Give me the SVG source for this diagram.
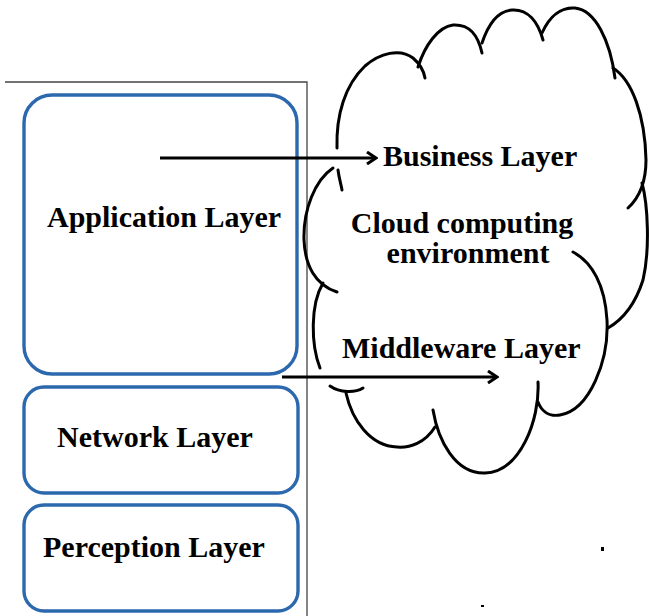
<svg xmlns="http://www.w3.org/2000/svg" width="649" height="616" viewBox="0 0 649 616">
<style>
.box{fill:#fff;stroke:#2c68ae;stroke-width:3.4}
.lbl{font-family:"Liberation Serif","Times New Roman",serif;font-weight:bold;font-size:30px;fill:#000}
.cl{fill:none;stroke:#000;stroke-width:3;stroke-linecap:round}
.frame{fill:none;stroke:#444;stroke-width:1.3}
.arr{fill:none;stroke:#000;stroke-width:3}
</style>
<defs>
<marker id="ah" viewBox="0 0 14 14" refX="12" refY="7" markerWidth="14" markerHeight="14" markerUnits="userSpaceOnUse" orient="auto">
<path d="M3,1 L12,7 L3,13" fill="none" stroke="#000" stroke-width="3"/>
</marker>
</defs>
<rect width="649" height="616" fill="#fff"/>
<g id="frame">
<path class="frame" d="M5,82 H307 V616"/>
</g>
<g id="application-layer">
<rect class="box" x="24" y="95" width="273" height="279" rx="28" ry="28"/>
<text class="lbl" x="47" y="227">Application Layer</text>
</g>
<g id="network-layer">
<rect class="box" x="24" y="387" width="274" height="106" rx="20" ry="20"/>
<text class="lbl" x="57" y="447">Network Layer</text>
</g>
<g id="perception-layer">
<rect class="box" x="24" y="505" width="274" height="106" rx="20" ry="20"/>
<text class="lbl" x="43" y="557">Perception Layer</text>
</g>
<g id="cloud">
<path class="cl" d="M337,148 C336,115 345,85 365,66 C380,53 400,48 413,58 C420,64 424,72 425,78"/>
<path class="cl" d="M338,170 C339,178 341,184 342,190"/>
<path class="cl" d="M418,67 C425,45 438,27 453,25 C470,24 478,35 482,53"/>
<path class="cl" d="M482,43 C488,25 498,11 512,10 C528,9 538,22 543,40"/>
<path class="cl" d="M542,33 C550,15 562,7 575,8 C595,10 610,40 615,78"/>
<path class="cl" d="M613,68 C632,80 645,115 646,160 C646,180 640,197 628,208"/>
<path class="cl" d="M642,183 C648,205 650,250 643,280 C635,305 622,320 608,328"/>
<path class="cl" d="M573,252 C592,262 605,285 607,320 C609,360 590,410 560,415 C548,417 541,410 538,402"/>
<path class="cl" d="M538,382 C540,420 520,472 485,473 C455,474 438,440 433,410"/>
<path class="cl" d="M435,427 C425,443 410,448 397,447 C370,446 352,420 346,393"/>
<path class="cl" d="M330,386 C340,393 355,393 363,388"/>
<path class="cl" d="M320,368 C311,345 310,305 323,283"/>
<path class="cl" d="M333,168 C315,180 303,210 304,240 C305,265 315,285 337,292"/>
<text class="lbl" x="383" y="166">Business Layer</text>
<text class="lbl" x="462" y="233" text-anchor="middle">Cloud computing</text>
<text class="lbl" x="468" y="263" text-anchor="middle">environment</text>
<text class="lbl" x="342" y="358">Middleware Layer</text>
</g>
<g id="connectors">
<path class="arr" d="M160,158 H376" marker-end="url(#ah)"/>
<path class="arr" d="M282,377 H497" marker-end="url(#ah)"/>
</g>
<g id="specks">
<rect x="601" y="547" width="3" height="4" fill="#000"/>
<rect x="481" y="605" width="3" height="2" fill="#000"/>
</g>
</svg>
